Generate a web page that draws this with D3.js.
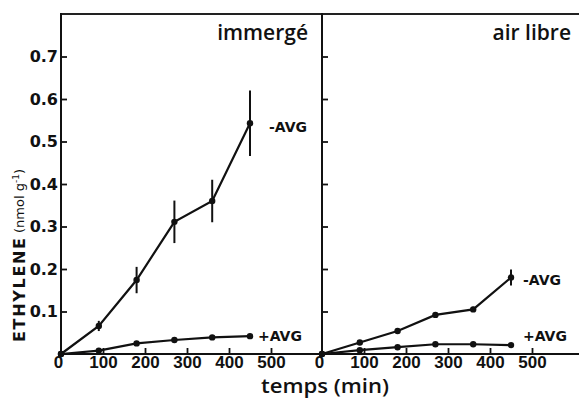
<!DOCTYPE html>
<html><head><meta charset="utf-8">
<script src="https://cdn.jsdelivr.net/npm/d3@7"></script>
<style>body{margin:0;background:#fff}svg{display:block}</style>
</head><body>
<svg id="c" width="579" height="400"></svg>
<script>
const times = [0, 90, 180, 270, 360, 450];
const xTicks = [0, 100, 200, 300, 400, 500];
const yTicks = [0.1, 0.2, 0.3, 0.4, 0.5, 0.6, 0.7];
const panelTitles = ["immergé", "air libre"];
const seriesNames = ["-AVG", "+AVG"];
// immergé
const immMinus = [0, 0.066, 0.174, 0.311, 0.36, 0.543];
const immMinusErr = [0, 0.012, 0.031, 0.05, 0.05, 0.077];
const immPlus = [0, 0.008, 0.025, 0.033, 0.039, 0.042];
// air libre
const airMinus = [0, 0.027, 0.054, 0.092, 0.105, 0.18];
const airMinusErr = [0, 0, 0, 0, 0.006, 0.019];
const airPlus = [0, 0.009, 0.016, 0.023, 0.023, 0.021];

const svg = d3.select("#c");
const y = d3.scaleLinear().domain([0, 0.7]).range([354, 56.5]);
const frameTop = 14, frameBottom = 354;
const panels = [
  {x: d3.scaleLinear().domain([0, 500]).range([61, 271]), x0: 61, x1: 322, title: panelTitles[0], titleX: 308,
   minus: immMinus, err: immMinusErr, plus: immPlus, labels: true,
   minusLab: [269, 0.535], plusLab: [258, 0.042]},
  {x: d3.scaleLinear().domain([0, 500]).range([322, 532]), x0: 322, x1: 579, title: panelTitles[1], titleX: 571,
   minus: airMinus, err: airMinusErr, plus: airPlus, labels: false,
   minusLab: [523, 0.175], plusLab: [523, 0.042]}
];

svg.append("line").attr("x1", 61).attr("x2", 579).attr("y1", frameTop).attr("y2", frameTop)
  .attr("stroke", "#222").attr("stroke-width", 2.2);

panels.forEach(p => {
  const ax = d3.axisBottom(p.x).tickValues(xTicks).tickSize(-6).tickSizeOuter(0).tickPadding(2)
    .tickFormat(d3.format("d"));
  const gx = svg.append("g").attr("transform", `translate(0,${frameBottom})`).call(ax);
  gx.select(".domain").remove();
  gx.selectAll(".tick line").attr("stroke", "#111").attr("stroke-width", 1.8);
  gx.selectAll(".tick text").attr("font-family", "Liberation Sans").attr("font-weight", "bold")
    .attr("font-size", 17).attr("fill", "#111");
  gx.selectAll(".tick").filter(d => d === 0).select("line").remove();
  gx.selectAll(".tick").filter(d => d === 0).select("text").attr("x", -3);
  svg.append("line").attr("x1", p.x0).attr("x2", p.x1).attr("y1", frameBottom).attr("y2", frameBottom)
    .attr("stroke", "#111").attr("stroke-width", 2);

  const ay = d3.axisLeft(y).tickValues(yTicks).tickSize(-6).tickSizeOuter(0).tickPadding(3)
    .tickFormat(p.labels ? d3.format(".1f") : () => "");
  const gy = svg.append("g").attr("transform", `translate(${p.x0},0)`).call(ay);
  gy.select(".domain").remove();
  gy.selectAll(".tick line").attr("stroke", "#111").attr("stroke-width", 1.8);
  gy.selectAll(".tick text").attr("font-family", "DejaVu Sans").attr("font-weight", "bold")
    .attr("font-size", 16).attr("fill", "#111");
  svg.append("line").attr("x1", p.x0).attr("x2", p.x0).attr("y1", frameTop - 1).attr("y2", frameBottom + 1)
    .attr("stroke", "#111").attr("stroke-width", 2);

  svg.append("text").attr("x", p.titleX).attr("y", 40).attr("text-anchor", "end")
    .attr("font-family", "Open Sans").attr("font-weight", 600).attr("font-size", 21).attr("fill", "#111")
    .text(p.title);

  const line = d3.line().x((d, i) => p.x(times[i])).y(d => y(d));
  [p.minus, p.plus].forEach(s => {
    svg.append("path").attr("d", line(s)).attr("fill", "none").attr("stroke", "#111").attr("stroke-width", 2.2);
    svg.append("g").selectAll("circle").data(s).join("circle")
      .attr("cx", (d, i) => p.x(times[i])).attr("cy", d => y(d)).attr("r", 3.2).attr("fill", "#111");
  });
  const errData = p.err.map((e, i) => ({t: times[i], v: p.minus[i], e})).filter(d => d.e > 0);
  svg.append("g").selectAll("line").data(errData).join("line")
    .attr("x1", d => p.x(d.t)).attr("x2", d => p.x(d.t))
    .attr("y1", d => y(d.v + d.e)).attr("y2", d => y(d.v - d.e))
    .attr("stroke", "#111").attr("stroke-width", 2);

  svg.append("text").attr("x", p.minusLab[0]).attr("y", y(p.minusLab[1])).attr("dy", "0.35em")
    .attr("font-family", "DejaVu Sans").attr("font-weight", "bold").attr("font-size", 14).attr("fill", "#111")
    .text(seriesNames[0]);
  svg.append("text").attr("x", p.plusLab[0]).attr("y", y(p.plusLab[1])).attr("dy", "0.35em")
    .attr("font-family", "DejaVu Sans").attr("font-weight", "bold").attr("font-size", 14).attr("fill", "#111")
    .text(seriesNames[1]);
});

// y label: two parts
svg.append("text").attr("transform", "translate(25,342) rotate(-90)").attr("text-anchor", "start")
  .attr("font-family", "DejaVu Sans").attr("font-weight", "bold").attr("font-size", 16).attr("fill", "#111")
  .attr("textLength", 104).attr("lengthAdjust", "spacing").text("ETHYLENE");
const yl = svg.append("text").attr("transform", "translate(24,233) rotate(-90)").attr("text-anchor", "start")
  .attr("font-family", "DejaVu Sans").attr("fill", "#111");
yl.append("tspan").attr("font-size", 13).text("(nmol g");
yl.append("tspan").attr("font-size", 9).attr("dy", -5).text("-1");
yl.append("tspan").attr("font-size", 13).attr("dy", 5).text(")");

svg.append("text").attr("x", 325).attr("y", 393).attr("text-anchor", "middle")
  .attr("font-family", "Open Sans").attr("font-weight", 600).attr("font-size", 20).attr("fill", "#111")
  .attr("textLength", 128).attr("lengthAdjust", "spacingAndGlyphs")
  .text("temps (min)");
</script>
</body></html>
